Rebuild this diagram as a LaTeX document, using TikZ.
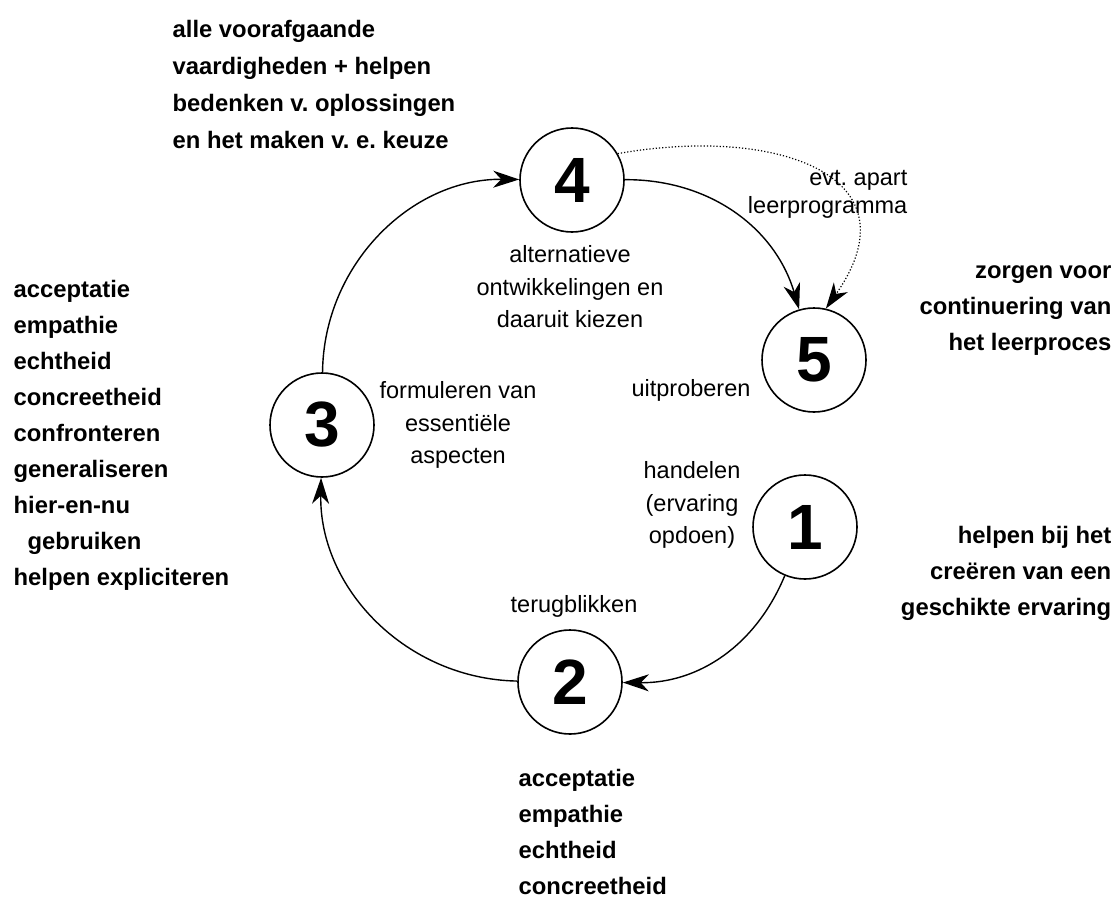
\documentclass[tikz,border=0pt]{standalone}
\usepackage{fontspec}
\setmainfont{Liberation Sans}
\usetikzlibrary{arrows.meta,automata,positioning}
\frenchspacing

\begin{document}
\begin{tikzpicture}[x=0.5pt, y=-0.5pt, ->, >={Stealth[length=13pt,width=8.5pt,inset=4pt]}, line width=0.7pt]
\tikzstyle{every state}=[fill=white,draw=black,line width=0.8pt,minimum size=52pt,inner sep=0pt,font=\fontsize{32}{32}\selectfont\bfseries]
\tikzstyle{phase text}=[inner sep=0pt,align=center,font=\fontsize{11.75}{16.25}\selectfont]
\tikzstyle{coach text}=[inner sep=0pt,font=\fontsize{11.9}{18}\selectfont\bfseries]
\useasboundingbox[fill=white] (0,0) rectangle (1117,899);
\node[state]    (4) at (572,180)    {4};
\node[state]    (5) at (814,360)    {5};
\node[state]    (3) at (322,425)    {3};
\node[state]    (1) at (805,527)    {1};
\node[state]    (2) at (570,682)    {2};
\path
(1) edge[bend left=34]     (2)
(2) edge[bend left=45]     (3)
(3) edge[bend left=45]     (4)
(4) edge[bend left=37]     (5)
(4.30) edge[densely dotted, line width=0.6pt, out=10, in=55, looseness=1.6]    (5.77);
% wat er in elke fase gebeurt
\node[phase text, anchor=north east, align=right, font=\fontsize{11.75}{14}\selectfont] (apart) at (908,170) {evt. apart\\leerprogramma};
\node[phase text, anchor=north]    (alt)      at (570,245)    {alternatieve\\ontwikkelingen en\\daaruit kiezen};
\node[phase text, anchor=base]     (uit)      at (691,396)    {uitproberen};
\node[phase text, anchor=north]    (form)     at (458,381)    {formuleren van\\essentiële\\aspecten};
\node[phase text, anchor=north]    (hand)     at (692,461)    {handelen\\(ervaring\\opdoen)};
\node[phase text, anchor=base]     (terug)    at (574,612)    {terugblikken};
% wat de begeleider doet
\node[coach text, anchor=north west, align=left, font=\fontsize{11.9}{18.5}\selectfont\bfseries] (c4) at (172,20) {alle voorafgaande\\vaardigheden + helpen\\bedenken v. oplossingen\\en het maken v. e. keuze};
\node[coach text, anchor=north west, align=left]    (c3) at (13,280)    {acceptatie\\empathie\\echtheid\\concreetheid\\confronteren\\generaliseren\\hier-en-nu\\\hspace*{7pt}gebruiken\\helpen expliciteren};
\node[coach text, anchor=north east, align=right]   (c5) at (1112,265)    {zorgen voor\\continuering van\\het leerproces};
\node[coach text, anchor=north east, align=right]   (c1) at (1112,526)    {helpen bij het\\creëren van een\\geschikte ervaring};
\node[coach text, anchor=north west, align=left]    (c2) at (518,769)     {acceptatie\\empathie\\echtheid\\concreetheid};
\end{tikzpicture}
\end{document}
